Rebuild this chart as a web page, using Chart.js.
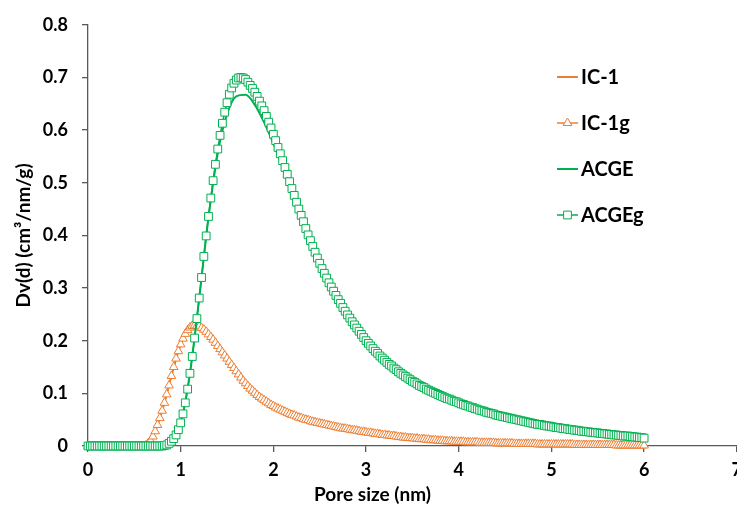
<!DOCTYPE html>
<html>
<head>
<meta charset="utf-8">
<script src="https://cdn.jsdelivr.net/npm/chart.js@4.4.1/dist/chart.umd.min.js"></script>
<style>
  html, body { margin: 0; padding: 0; background: #fff; overflow: hidden; }
  #wrap { width: 737px; height: 510px; overflow: hidden; }
</style>
</head>
<body>
<div id="wrap"><canvas id="psd" width="749" height="510"></canvas></div>
<script>
/* Pore size distribution: two samples, each as a smooth curve (IC-1, ACGE)
   and as a marker series (IC-1g, ACGEg).
   Canvas is a bit wider than the page so the "7" label gets cut like the source. */

// pore size grid for the marker series (nm)
const poreSize = [
  0, 0.025, 0.05, 0.075, 0.1, 0.125, 0.15, 0.175,
  0.2, 0.225, 0.25, 0.275, 0.3, 0.325, 0.35, 0.375,
  0.4, 0.425, 0.45, 0.475, 0.5, 0.525, 0.55, 0.575,
  0.6, 0.625, 0.65, 0.675, 0.7, 0.725, 0.75, 0.775,
  0.8, 0.825, 0.85, 0.875, 0.9, 0.925, 0.95, 0.975,
  1, 1.025, 1.05, 1.075, 1.1, 1.125, 1.15, 1.175,
  1.2, 1.225, 1.25, 1.275, 1.3, 1.325, 1.35, 1.375,
  1.4, 1.425, 1.45, 1.475, 1.5, 1.525, 1.55, 1.575,
  1.6, 1.625, 1.65, 1.675, 1.7, 1.725, 1.75, 1.775,
  1.8, 1.825, 1.85, 1.875, 1.9, 1.925, 1.95, 1.975,
  2, 2.025, 2.05, 2.075, 2.1, 2.125, 2.15, 2.175,
  2.2, 2.225, 2.25, 2.275, 2.3, 2.325, 2.35, 2.375,
  2.4, 2.425, 2.45, 2.475, 2.5, 2.525, 2.55, 2.575,
  2.6, 2.625, 2.65, 2.675, 2.7, 2.725, 2.75, 2.775,
  2.8, 2.825, 2.85, 2.875, 2.9, 2.925, 2.95, 2.975,
  3, 3.025, 3.05, 3.075, 3.1, 3.125, 3.15, 3.175,
  3.2, 3.225, 3.25, 3.275, 3.3, 3.325, 3.35, 3.375,
  3.4, 3.425, 3.45, 3.475, 3.5, 3.525, 3.55, 3.575,
  3.6, 3.625, 3.65, 3.675, 3.7, 3.725, 3.75, 3.775,
  3.8, 3.825, 3.85, 3.875, 3.9, 3.925, 3.95, 3.975,
  4, 4.025, 4.05, 4.075, 4.1, 4.125, 4.15, 4.175,
  4.2, 4.225, 4.25, 4.275, 4.3, 4.325, 4.35, 4.375,
  4.4, 4.425, 4.45, 4.475, 4.5, 4.525, 4.55, 4.575,
  4.6, 4.625, 4.65, 4.675, 4.7, 4.725, 4.75, 4.775,
  4.8, 4.825, 4.85, 4.875, 4.9, 4.925, 4.95, 4.975,
  5, 5.025, 5.05, 5.075, 5.1, 5.125, 5.15, 5.175,
  5.2, 5.225, 5.25, 5.275, 5.3, 5.325, 5.35, 5.375,
  5.4, 5.425, 5.45, 5.475, 5.5, 5.525, 5.55, 5.575,
  5.6, 5.625, 5.65, 5.675, 5.7, 5.725, 5.75, 5.775,
  5.8, 5.825, 5.85, 5.875, 5.9, 5.925, 5.95, 5.975,
  6
];

const ic1g = [
  0, 0, 0, 0, 0, 0, 0, 0,
  0, 0, 0, 0, 0, 0, 0, 0,
  0, 0, 0, 0, 0, 0, 0, 0,
  0, 0.001, 0.005, 0.010, 0.018, 0.028, 0.040, 0.053,
  0.067, 0.082, 0.098, 0.115, 0.133, 0.150, 0.166, 0.180,
  0.193, 0.204, 0.213, 0.220, 0.225, 0.228, 0.229, 0.228,
  0.227, 0.224, 0.221, 0.217, 0.212, 0.207, 0.202, 0.196,
  0.190, 0.184, 0.178, 0.172, 0.166, 0.160, 0.154, 0.148,
  0.142, 0.136, 0.130, 0.124, 0.119, 0.114, 0.109, 0.105,
  0.101, 0.097, 0.093, 0.090, 0.087, 0.084, 0.081, 0.078,
  0.076, 0.073, 0.071, 0.069, 0.067, 0.065, 0.063, 0.061,
  0.059, 0.058, 0.056, 0.054, 0.053, 0.051, 0.050, 0.049,
  0.047, 0.046, 0.045, 0.044, 0.043, 0.042, 0.041, 0.040,
  0.039, 0.038, 0.037, 0.036, 0.035, 0.034, 0.033, 0.033,
  0.032, 0.031, 0.030, 0.030, 0.029, 0.028, 0.027, 0.027,
  0.026, 0.025, 0.025, 0.024, 0.023, 0.023, 0.022, 0.021,
  0.021, 0.020, 0.020, 0.019, 0.019, 0.018, 0.017, 0.017,
  0.016, 0.016, 0.015, 0.015, 0.015, 0.014, 0.014, 0.013,
  0.013, 0.013, 0.012, 0.012, 0.011, 0.011, 0.011, 0.010,
  0.010, 0.010, 0.009, 0.009, 0.009, 0.009, 0.008, 0.008,
  0.008, 0.008, 0.008, 0.007, 0.007, 0.007, 0.007, 0.007,
  0.007, 0.006, 0.006, 0.006, 0.006, 0.006, 0.006, 0.006,
  0.005, 0.005, 0.005, 0.005, 0.005, 0.005, 0.005, 0.005,
  0.004, 0.004, 0.004, 0.004, 0.004, 0.004, 0.004, 0.004,
  0.004, 0.004, 0.003, 0.003, 0.003, 0.003, 0.003, 0.003,
  0.003, 0.003, 0.003, 0.003, 0.003, 0.003, 0.003, 0.003,
  0.003, 0.003, 0.002, 0.002, 0.002, 0.002, 0.002, 0.002,
  0.002, 0.002, 0.002, 0.002, 0.002, 0.002, 0.002, 0.002,
  0.002, 0.002, 0.002, 0.002, 0.001, 0.001, 0.001, 0.001,
  0.001, 0.001, 0.001, 0.001, 0.001, 0.001, 0.001, 0.001,
  0.001
];

const acgeg = [
  0, 0, 0, 0, 0, 0, 0, 0,
  0, 0, 0, 0, 0, 0, 0, 0,
  0, 0, 0, 0, 0, 0, 0, 0,
  0, 0, 0, 0, 0, 0, 0, 0,
  0, 0.001, 0.002, 0.005, 0.009, 0.014, 0.021, 0.031,
  0.044, 0.061, 0.082, 0.108, 0.138, 0.170, 0.205, 0.242,
  0.281, 0.320, 0.360, 0.399, 0.436, 0.471, 0.504, 0.535,
  0.564, 0.590, 0.613, 0.634, 0.652, 0.668, 0.680, 0.689,
  0.695, 0.699, 0.700, 0.699, 0.696, 0.691, 0.685, 0.679,
  0.672, 0.664, 0.655, 0.646, 0.637, 0.626, 0.615, 0.604,
  0.592, 0.580, 0.567, 0.555, 0.542, 0.529, 0.516, 0.502,
  0.489, 0.476, 0.463, 0.450, 0.438, 0.426, 0.413, 0.401,
  0.390, 0.379, 0.368, 0.357, 0.347, 0.337, 0.328, 0.319,
  0.310, 0.302, 0.294, 0.286, 0.278, 0.271, 0.263, 0.256,
  0.249, 0.243, 0.236, 0.230, 0.224, 0.218, 0.212, 0.206,
  0.200, 0.195, 0.190, 0.185, 0.180, 0.176, 0.171, 0.167,
  0.163, 0.159, 0.155, 0.152, 0.148, 0.145, 0.141, 0.138,
  0.135, 0.132, 0.129, 0.126, 0.123, 0.121, 0.118, 0.115,
  0.113, 0.111, 0.108, 0.106, 0.104, 0.102, 0.100, 0.098,
  0.096, 0.094, 0.092, 0.090, 0.089, 0.087, 0.085, 0.084,
  0.082, 0.080, 0.079, 0.077, 0.076, 0.074, 0.073, 0.071,
  0.070, 0.068, 0.067, 0.066, 0.064, 0.063, 0.062, 0.061,
  0.059, 0.058, 0.057, 0.056, 0.055, 0.054, 0.053, 0.052,
  0.051, 0.050, 0.049, 0.048, 0.047, 0.046, 0.045, 0.044,
  0.043, 0.042, 0.041, 0.041, 0.040, 0.039, 0.038, 0.038,
  0.037, 0.036, 0.035, 0.035, 0.034, 0.033, 0.033, 0.032,
  0.031, 0.031, 0.030, 0.030, 0.029, 0.028, 0.028, 0.027,
  0.027, 0.026, 0.026, 0.025, 0.025, 0.024, 0.024, 0.023,
  0.023, 0.022, 0.022, 0.021, 0.021, 0.020, 0.020, 0.019,
  0.019, 0.019, 0.018, 0.018, 0.017, 0.017, 0.016, 0.016,
  0.015
];

// coarser grid for the plain curves (nm)
const poreSizeLine = [
  0, 0.1, 0.2, 0.3, 0.4, 0.5, 0.6, 0.7, 0.8, 0.9,
  1, 1.1, 1.2, 1.3, 1.4, 1.5, 1.6, 1.7, 1.8, 1.9,
  2, 2.1, 2.2, 2.3, 2.4, 2.5, 2.6, 2.7, 2.8, 2.9,
  3, 3.1, 3.2, 3.3, 3.4, 3.5, 3.6, 3.7, 3.8, 3.9,
  4, 4.1, 4.2, 4.3, 4.4, 4.5, 4.6, 4.7, 4.8, 4.9,
  5, 5.1, 5.2, 5.3, 5.4, 5.5, 5.6, 5.7, 5.8, 5.9,
  6
];

const ic1 = [
  0, 0, 0, 0, 0, 0, 0, 0.018, 0.067, 0.133,
  0.193, 0.225, 0.227, 0.212, 0.190, 0.166, 0.142, 0.119, 0.101, 0.087,
  0.076, 0.067, 0.059, 0.053, 0.047, 0.043, 0.039, 0.035, 0.032, 0.029,
  0.026, 0.023, 0.021, 0.019, 0.016, 0.015, 0.013, 0.011, 0.010, 0.009,
  0.008, 0.007, 0.007, 0.006, 0.005, 0.005, 0.004, 0.004, 0.004, 0.003,
  0.003, 0.003, 0.003, 0.002, 0.002, 0.002, 0.002, 0.002, 0.001, 0.001,
  0.001
];

const acge = [
  0, 0, 0, 0, 0, 0, 0, 0, 0, 0.009,
  0.044, 0.138, 0.281, 0.434, 0.556, 0.630, 0.664, 0.667, 0.648, 0.615,
  0.575, 0.529, 0.480, 0.432, 0.386, 0.344, 0.308, 0.277, 0.248, 0.223,
  0.200, 0.180, 0.163, 0.148, 0.135, 0.123, 0.113, 0.104, 0.096, 0.089,
  0.082, 0.076, 0.070, 0.064, 0.059, 0.055, 0.051, 0.047, 0.043, 0.040,
  0.037, 0.034, 0.031, 0.029, 0.027, 0.025, 0.023, 0.021, 0.019, 0.017,
  0.015
];

const xTicks = [0, 1, 2, 3, 4, 5, 6, 7];
const yTicks = [0, 0.1, 0.2, 0.3, 0.4, 0.5, 0.6, 0.7, 0.8];

const ORANGE = '#ED7D31';
const GREEN = '#00B050';
const FONT = 'Lato, "Open Sans", sans-serif';
const PAGE_W = 737;

const pts = (xs, ys) => xs.map((x, i) => ({ x, y: ys[i] }));

// draws the side legend and the x title (centred on the page, as in the source)
const overlay = {
  id: 'overlay',
  afterDraw(chart) {
    const ctx = chart.ctx;
    ctx.save();
    ctx.textBaseline = 'middle';
    ctx.fillStyle = '#000';
    ctx.textAlign = 'center';
    ctx.font = 'bold 19px ' + FONT;
    ctx.fillText('Pore size (nm)', PAGE_W / 2 + 4, 495);

    ctx.font = 'bold 20px ' + FONT;
    chart.data.datasets.forEach((ds, i) => {
      const x = 557, y = 77 + i * 46;
      ctx.strokeStyle = ds.borderColor;
      ctx.lineWidth = ds.borderWidth;
      ctx.beginPath();
      ctx.moveTo(x, y);
      ctx.lineTo(x + 21, y);
      ctx.stroke();
      if (ds.pointRadius > 0) {
        ctx.fillStyle = ds.pointBackgroundColor;
        ctx.strokeStyle = ds.pointBorderColor;
        ctx.lineWidth = ds.pointBorderWidth;
        Chart.helpers.drawPoint(ctx, {
          pointStyle: ds.pointStyle, radius: ds.pointRadius,
          borderWidth: ds.pointBorderWidth, rotation: 0
        }, x + 10.5, y);
      }
      ctx.fillStyle = '#000';
      ctx.textAlign = 'left';
      ctx.fillText(ds.label, x + 24, y + 1);
    });
    ctx.restore();
  }
};

new Chart(document.getElementById('psd'), {
  type: 'line',
  data: {
    datasets: [
      {
        label: 'IC-1', data: pts(poreSizeLine, ic1), order: 4,
        borderColor: ORANGE, borderWidth: 2, pointRadius: 0,
        cubicInterpolationMode: 'monotone', clip: false
      },
      {
        label: 'IC-1g', data: pts(poreSize, ic1g), order: 3,
        borderColor: ORANGE, borderWidth: 1.5, tension: 0,
        pointStyle: 'triangle', pointRadius: 5, pointBorderWidth: 1,
        pointBorderColor: ORANGE, pointBackgroundColor: '#fff', clip: false
      },
      {
        label: 'ACGE', data: pts(poreSizeLine, acge), order: 2,
        borderColor: GREEN, borderWidth: 2, pointRadius: 0,
        cubicInterpolationMode: 'monotone', clip: false
      },
      {
        label: 'ACGEg', data: pts(poreSize, acgeg), order: 1,
        borderColor: GREEN, borderWidth: 1.5, tension: 0,
        pointStyle: 'rect', pointRadius: 5.5, pointBorderWidth: 1,
        pointBorderColor: GREEN, pointBackgroundColor: '#fff', clip: false
      }
    ]
  },
  options: {
    responsive: false,
    animation: false,
    events: [],
    layout: { padding: { top: 19, left: 0, right: 0, bottom: 0 } },
    plugins: { legend: { display: false }, tooltip: { enabled: false } },
    scales: {
      x: {
        type: 'linear', min: 0, max: 7,
        afterBuildTicks: s => { s.ticks = xTicks.map(v => ({ value: v })); },
        afterFit: s => { s.height = 64; },
        ticks: { color: '#000', padding: 7, font: { family: FONT, size: 18, weight: 'bold' } },
        grid: { drawOnChartArea: false, drawTicks: true, tickLength: 6, color: '#595959', lineWidth: 1.3 },
        border: { color: '#595959', width: 1.3 }
      },
      y: {
        min: 0, max: 0.8,
        afterBuildTicks: s => { s.ticks = yTicks.map(v => ({ value: v })); },
        afterFit: s => { s.width = 88; },
        ticks: { color: '#000', padding: 14, font: { family: FONT, size: 18, weight: 'bold' } },
        grid: { drawOnChartArea: false, drawTicks: true, tickLength: 6, color: '#595959', lineWidth: 1.3 },
        border: { color: '#595959', width: 1.3 },
        title: {
          display: true, text: 'Dv(d) (cm³/nm/g)', color: '#000',
          padding: { top: 12, bottom: 0 },
          font: { family: FONT, size: 19, weight: 'bold' }
        }
      }
    }
  },
  plugins: [overlay]
});
</script>
</body>
</html>
